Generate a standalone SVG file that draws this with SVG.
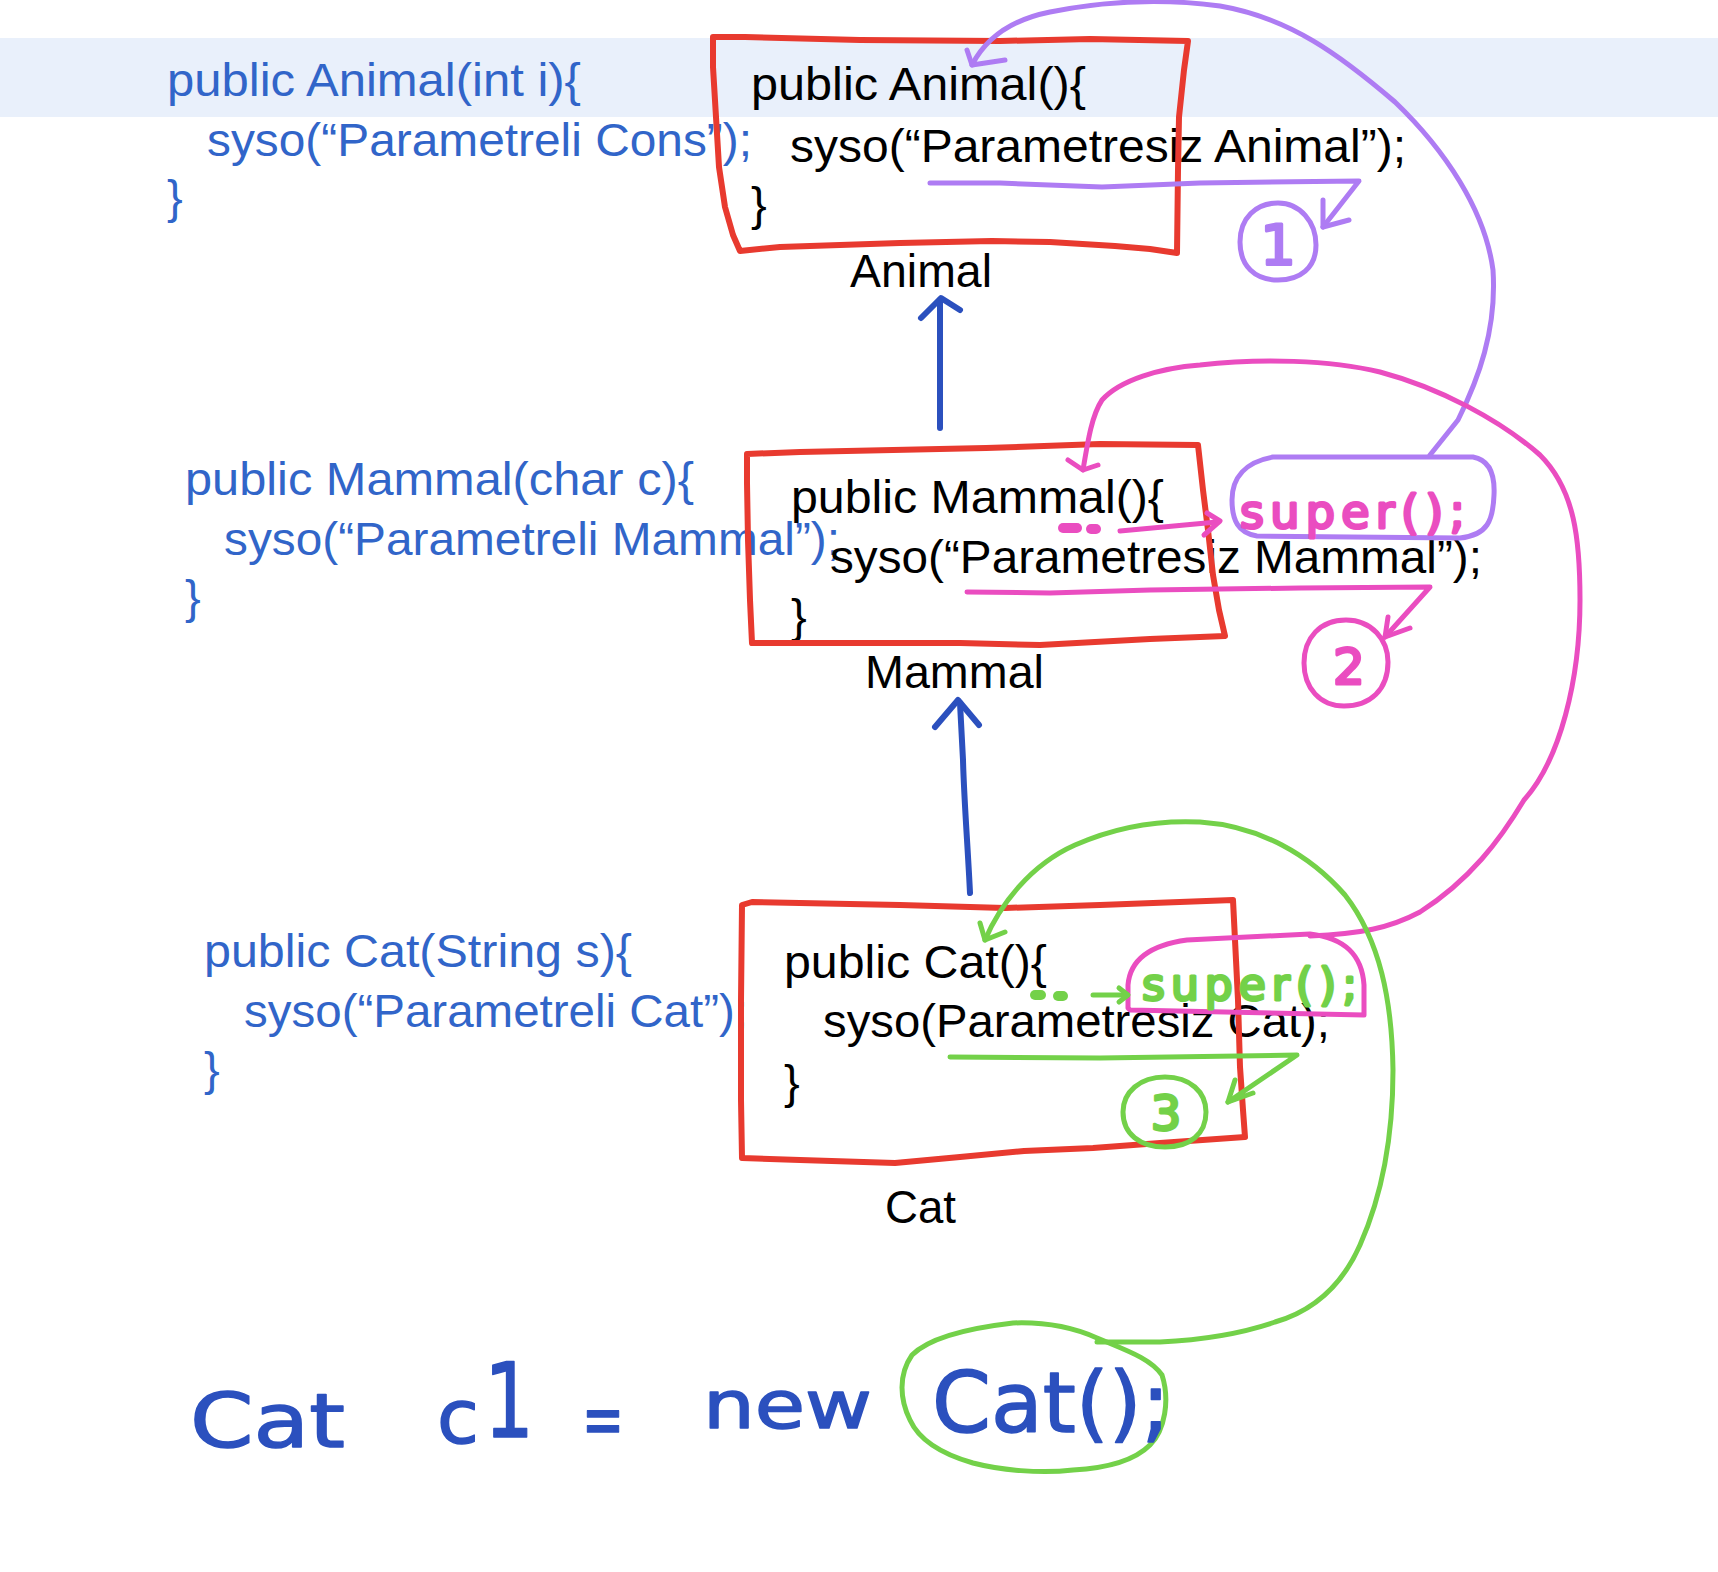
<svg xmlns="http://www.w3.org/2000/svg" width="1718" height="1572" viewBox="0 0 1718 1572">
<style>
.code{font-family:"Liberation Sans",Arial,sans-serif;font-size:47px}
.blue{fill:#3165C9}
.black{fill:#000}
.box{fill:none;stroke:#E83A2F;stroke-width:6;stroke-linejoin:round;stroke-linecap:round}
.pen{fill:none;stroke-width:5;stroke-linecap:round;stroke-linejoin:round}
.pur{stroke:#AE7CF3}
.pnk{stroke:#EA4DC0}
.grn{stroke:#73D149}
.dblue{stroke:#2B50BE;stroke-width:6}
.hand{font-family:"DejaVu Sans",sans-serif;font-weight:normal;stroke-width:3;stroke-linejoin:round;stroke-linecap:round}
.hpnk{fill:#EA4DC0;stroke:#EA4DC0}
.hgrn{fill:#73D149;stroke:#73D149}
.hpur{fill:#AE7CF3;stroke:#AE7CF3}
.hblue{fill:#2B50BE;stroke:#2B50BE;stroke-width:1.5}
</style>
<rect width="1718" height="1572" fill="#fff"/>
<rect id="highlight" x="0" y="38" width="1718" height="79" fill="#E9F0FB"/>

<g id="param-constructors" class="code blue">
<text x="167" y="96" textLength="414" lengthAdjust="spacingAndGlyphs">public Animal(int i){</text>
<text x="207" y="156" textLength="545" lengthAdjust="spacingAndGlyphs">syso(“Parametreli Cons”);</text>
<text x="167" y="213">}</text>
<text x="185" y="495" textLength="509" lengthAdjust="spacingAndGlyphs">public Mammal(char c){</text>
<text x="224" y="555" textLength="616" lengthAdjust="spacingAndGlyphs">syso(“Parametreli Mammal”);</text>
<text x="185" y="613">}</text>
<text x="204" y="967" textLength="428" lengthAdjust="spacingAndGlyphs">public Cat(String s){</text>
<text x="244" y="1027" textLength="504" lengthAdjust="spacingAndGlyphs">syso(“Parametreli Cat”);</text>
<text x="204" y="1085">}</text>
</g>

<g id="node-animal">
<g class="code black">
<text x="751" y="100" textLength="335" lengthAdjust="spacingAndGlyphs">public Animal(){</text>
<text x="790" y="162" textLength="616" lengthAdjust="spacingAndGlyphs">syso(“Parametresiz Animal”);</text>
<text x="751" y="220">}</text>
<text x="850" y="287" textLength="142" lengthAdjust="spacingAndGlyphs">Animal</text>
</g>
<path class="box" d="M713,37 L745,37 L860,40 L1000,41 L1090,39 L1188,41 L1184,70 L1179,117 L1178,170 L1177,253 L1150,249 L1115,246 L1050,242 L992,241 L900,243 L780,247 L740,251 L733,235 L725,207 L719,167 L716,117 L713,67 Z"/>
</g>

<g id="node-mammal">
<g class="code black">
<text x="791" y="513" textLength="373" lengthAdjust="spacingAndGlyphs">public Mammal(){</text>
<text x="830" y="573" textLength="652" lengthAdjust="spacingAndGlyphs">syso(“Parametresiz Mammal”);</text>
<text x="791" y="632">}</text>
<text x="865" y="688" textLength="179" lengthAdjust="spacingAndGlyphs">Mammal</text>
</g>
<path class="box" d="M747,454 L800,452 L986,448 L1100,444 L1198,445 L1203,490 L1208,530 L1213,575 L1219,610 L1225,636 L1150,639 L1040,645 L960,643 L850,643 L752,643 L750,600 L748,540 L747,483 Z"/>
</g>

<g id="node-cat">
<g class="code black">
<text x="784" y="978" textLength="263" lengthAdjust="spacingAndGlyphs">public Cat(){</text>
<text x="823" y="1037" textLength="507" lengthAdjust="spacingAndGlyphs">syso(Parametresiz Cat);</text>
<text x="784" y="1098">}</text>
<text x="885" y="1223" textLength="71" lengthAdjust="spacingAndGlyphs">Cat</text>
</g>
<path class="box" d="M742,905 L752,902 L900,905 L1005,908 L1100,905 L1233,900 L1236,960 L1238,1000 L1240,1067 L1243,1110 L1245,1137 L1160,1143 L1093,1148 L1024,1151 L960,1157 L895,1163 L800,1160 L742,1158 L741,1100 L741,1000 Z"/>
</g>

<g id="connectors">
<g id="inherit-arrows" class="pen dblue">
<path d="M940,428 L940,300"/>
<path d="M921,318 L941,298 L960,310"/>
<path d="M970,893 C968,850 964,800 963,760 L960,703"/>
<path d="M935,727 L958,700 L979,725"/>
</g>

<g id="step1" class="pen pur">
<path d="M930,183 L1000,183 L1102,187 L1200,183 L1359,181 L1323,227"/>
<path d="M1323,200 L1323,227 L1349,220"/>
<path d="M1278,203 C1300,203 1316,222 1316,245 C1316,268 1300,280 1278,280 C1255,280 1240,266 1240,242 C1240,218 1256,203 1278,203 Z"/>
<path d="M972,65 C985,40 1010,20 1050,12 C1100,2 1160,-2 1220,6 C1290,18 1340,55 1395,102 C1445,150 1485,210 1493,270 C1497,330 1478,380 1458,420 L1430,455"/>
<path d="M967,50 L972,65 L1005,60"/>
<path d="M1273,457 L1473,457 C1490,460 1495,475 1494,495 C1493,520 1488,535 1460,538 L1257,536 C1238,533 1232,520 1232,500 C1232,478 1245,462 1273,457 Z"/>
</g>
<text class="hand hpur" x="1278" y="264" font-size="56" text-anchor="middle">1</text>

<g id="step2" class="pen pnk">
<path d="M1063,528 L1077,528" stroke-width="10"/>
<path d="M1091,529 L1096,529" stroke-width="10"/>
<path d="M1120,531 L1217,522"/>
<path d="M1207,513 L1220,521 L1204,535"/>
<path d="M967,592 L1050,593 L1150,590 L1300,588 L1430,587 L1385,637"/>
<path d="M1388,617 L1385,637 L1410,628"/>
<path d="M1346,620 C1372,620 1388,640 1388,662 C1388,690 1370,706 1344,706 C1320,706 1304,688 1304,663 C1304,638 1320,620 1346,620 Z"/>
<path d="M1083,470 C1088,440 1092,415 1102,400 C1120,380 1160,368 1200,365 C1260,358 1330,360 1380,372 C1440,388 1500,420 1540,455 C1575,490 1580,540 1580,600 C1580,680 1560,760 1524,800 C1500,840 1470,880 1420,912 C1390,928 1360,934 1310,936"/>
<path d="M1068,460 L1083,470 L1098,465"/>
<path d="M1128,1008 L1128,985 C1130,960 1150,945 1187,940 L1310,934 C1345,938 1362,955 1364,985 L1364,1015 L1130,1010 Z"/>
</g>
<text class="hand hpnk" x="1240" y="528" font-size="46" textLength="225" lengthAdjust="spacing">super();</text>
<text class="hand hpnk" x="1349" y="684" font-size="50" text-anchor="middle">2</text>

<g id="step3" class="pen grn">
<path d="M1035,995 L1041,995" stroke-width="10"/>
<path d="M1058,996 L1063,996" stroke-width="10"/>
<path d="M1093,995 L1127,995"/>
<path d="M1119,988 L1128,995 L1119,1002"/>
<path d="M950,1057 L1100,1058 L1297,1055 L1228,1102"/>
<path d="M1235,1080 L1228,1102 L1253,1093"/>
<path d="M1165,1077 C1190,1077 1206,1092 1206,1112 C1206,1134 1190,1147 1165,1147 C1140,1147 1123,1134 1123,1112 C1123,1092 1140,1077 1165,1077 Z"/>
<path d="M985,940 C1000,905 1030,865 1075,845 C1120,825 1160,820 1200,822 C1260,826 1310,855 1345,895 C1380,940 1392,1000 1393,1070 C1393,1140 1380,1200 1360,1245 C1340,1290 1310,1312 1275,1322 C1240,1334 1200,1340 1160,1342 L1097,1342"/>
<path d="M980,923 L985,940 L1005,932"/>
<path d="M1013,1323 C1040,1322 1070,1326 1097,1338 C1125,1350 1150,1358 1162,1375 C1170,1400 1165,1430 1150,1445 C1135,1460 1110,1468 1073,1470 C1040,1474 1000,1470 973,1463 C945,1455 920,1442 910,1420 C900,1400 898,1375 912,1355 C930,1337 970,1328 1013,1323 Z"/>
</g>
<text class="hand hgrn" x="1142" y="1000" font-size="44" textLength="215" lengthAdjust="spacing">super();</text>
<text class="hand hgrn" x="1166" y="1130" font-size="48" text-anchor="middle">3</text>
</g>

<g id="statement">
<text class="hand hblue"><tspan x="190" y="1447" font-size="74" textLength="155" lengthAdjust="spacingAndGlyphs">Cat</tspan><tspan x="437" y="1443" font-size="74" textLength="42" lengthAdjust="spacingAndGlyphs">c</tspan><tspan x="484" y="1437" font-size="104" textLength="50" lengthAdjust="spacingAndGlyphs">1</tspan><tspan x="582" y="1445" font-size="74" textLength="42" lengthAdjust="spacingAndGlyphs">=</tspan><tspan x="703" y="1428" font-size="66" textLength="169" lengthAdjust="spacingAndGlyphs">new</tspan><tspan x="932" y="1432" font-size="84" textLength="238" lengthAdjust="spacingAndGlyphs">Cat();</tspan></text>
</g>
</svg>
